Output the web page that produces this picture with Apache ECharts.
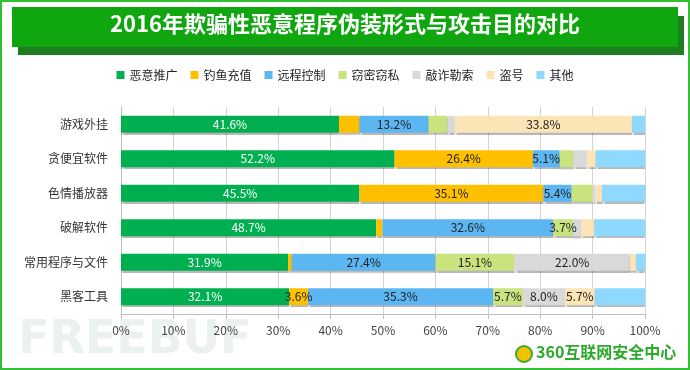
<!DOCTYPE html>
<html><head><meta charset="utf-8">
<script src="https://cdn.jsdelivr.net/npm/echarts@6/dist/echarts.min.js"></script>
<style>html,body{margin:0;padding:0;background:#fff}#c{width:690px;height:370px}</style>
</head><body><div id="c"></div>
<script>
const titleText = '2016年欺骗性恶意程序伪装形式与攻击目的对比';
const categories = ['游戏外挂','贪便宜软件','色情播放器','破解软件','常用程序与文件','黑客工具'];
const seriesNames = ['恶意推广','钓鱼充值','远程控制','窃密窃私','敲诈勒索','盗号','其他'];
const promo   = [41.6, 52.2, 45.5, 48.7, 31.9, 32.1];
const phish   = [3.9, 26.4, 35.1, 1.2, 0.7, 3.6];
const remote  = [13.2, 5.1, 5.4, 32.6, 27.4, 35.3];
const steal   = [3.6, 2.6, 3.9, 3.7, 15.1, 5.7];
const extort  = [1.4, 2.6, 0.6, 1.6, 22.0, 8.0];
const account = [33.8, 1.7, 1.3, 2.5, 1.2, 5.7];
const other   = [2.5, 9.4, 8.2, 9.7, 1.7, 9.6];
// which category indices carry a visible value label, per series
const labelled = [[0,1,2,3,4,5],[1,2,5],[0,1,2,3,4,5],[3,4,5],[4,5],[0,5],[]];
const xTicks = [0,10,20,30,40,50,60,70,80,90,100];

const colors = ['#00B050','#FFC000','#5BB6F2','#C9E37E','#D9D9D9','#FBE4B6','#8ED9FD'];
const values = [promo, phish, remote, steal, extort, account, other];
const font = '"Noto Sans CJK SC", "Microsoft YaHei", sans-serif';

const series = values.map((arr, si) => ({
  name: seriesNames[si],
  type: 'bar',
  stack: 'total',
  barWidth: 17,
  itemStyle: {color: colors[si], shadowColor: 'rgba(0,0,0,0.28)', shadowOffsetY: 2, shadowBlur: 1},
  data: arr.map((v, ci) => ({
    value: v,
    label: {
      show: labelled[si].includes(ci),
      position: 'inside',
      formatter: (p) => p.value.toFixed(1) + '%',
      color: si === 0 ? '#fff' : '#222',
      fontSize: 12,
      fontFamily: font
    }
  }))
}));

const chart = echarts.init(document.getElementById('c'));
chart.setOption({
  animation: false,
  color: colors,
  textStyle: {fontFamily: font},
  grid: {left: 121, right: 45, top: 107, bottom: 56},
  legend: {
    top: 64, left: 'center', itemWidth: 8, itemHeight: 8, itemGap: 13,
    icon: 'rect',
    textStyle: {fontSize: 12, color: '#222', fontFamily: font},
    data: seriesNames
  },
  xAxis: {
    type: 'value', min: 0, max: 100, interval: 10,
    axisLabel: {formatter: (v) => xTicks.includes(v) ? v + '%' : '', color: '#444', fontSize: 12, margin: 10},
    axisLine: {show: true, lineStyle: {color: '#BFBFBF'}},
    axisTick: {show: true, length: 5, lineStyle: {color: '#BFBFBF'}},
    splitLine: {lineStyle: {color: '#D4D4D4'}}
  },
  yAxis: {
    type: 'category', inverse: true, data: categories,
    axisLabel: {color: '#333', fontSize: 12, margin: 13},
    axisLine: {show: true, lineStyle: {color: '#BFBFBF'}},
    axisTick: {show: false}
  },
  graphic: [
    {type: 'rect', shape: {x: 1, y: 1, width: 688, height: 368}, style: {fill: 'none', stroke: '#2FC12F', lineWidth: 2}, z: 100},
    {type: 'rect', shape: {x: 18, y: 16, width: 666, height: 39}, style: {fill: '#1E7D1E'}, z: 1},
    {type: 'rect', shape: {x: 12, y: 7, width: 666, height: 40}, style: {fill: '#0FA60F'}, z: 2},
    {type: 'text', left: 'center', top: 13, z: 3, style: {text: titleText, fill: '#fff', font: 'bold 22px ' + font}},
    {type: 'text', left: 18, top: 318, z: 0, style: {text: 'FREEBUF', fill: '#EBF2EE', font: 'bold 46px "DejaVu Sans", sans-serif'}},
    {type: 'circle', shape: {cx: 524, cy: 354, r: 8}, style: {fill: '#F2C200', stroke: '#3BAA35', lineWidth: 2}, z: 5},
    {type: 'text', left: 536, top: 344, z: 5, style: {text: '360互联网安全中心', fill: '#2BAA2B', font: 'bold 16px ' + font}}
  ],
  series: series
});
</script></body></html>
